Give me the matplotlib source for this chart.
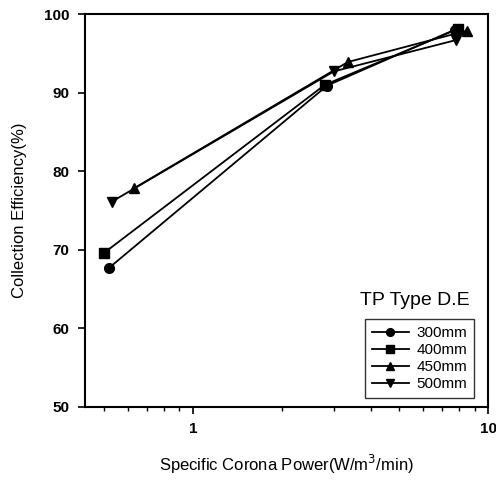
import matplotlib
matplotlib.use("Agg")
import matplotlib.pyplot as plt
from matplotlib.ticker import FixedLocator, NullFormatter

plt.rcParams['font.family'] = ['Liberation Sans', 'DejaVu Sans']

# data
labels = ['300mm', '400mm', '450mm', '500mm']
x_300 = [0.52, 2.85, 7.7]
y_300 = [67.7, 90.9, 98.0]
x_400 = [0.50, 2.80, 7.9]
y_400 = [69.6, 91.0, 98.1]
x_450 = [0.63, 3.35, 8.5]
y_450 = [77.8, 93.9, 97.9]
x_500 = [0.53, 3.00, 7.8]
y_500 = [76.1, 92.7, 96.7]

series = [(x_300, y_300, 'o'), (x_400, y_400, 's'), (x_450, y_450, '^'), (x_500, y_500, 'v')]

fig = plt.figure(figsize=(4.96, 4.86), dpi=100)
ax = fig.add_axes([0.171, 0.163, 0.813, 0.808])

for (xs, ys, m), lab in zip(series, labels):
    ax.plot(xs, ys, color='black', marker=m, markersize=7, linewidth=1.3, label=lab)

ax.set_xscale('log')
ax.set_xlim(0.43, 10)
ax.set_ylim(50, 100)
ax.set_yticks([50, 60, 70, 80, 90, 100])
ax.xaxis.set_major_locator(FixedLocator([1, 10]))
ax.set_xticklabels(['1', '10'])
ax.xaxis.set_minor_locator(FixedLocator([0.5, 0.6, 0.7, 0.8, 0.9, 2, 3, 4, 5, 6, 7, 8, 9]))
ax.xaxis.set_minor_formatter(NullFormatter())
ax.tick_params(axis='both', which='major', direction='out', length=5, width=1.2,
               labelsize=11, pad=6)
ax.tick_params(axis='x', which='minor', direction='out', length=3, width=1)
for lab in ax.get_xticklabels() + ax.get_yticklabels():
    lab.set_fontweight('bold')
for s in ax.spines.values():
    s.set_linewidth(1.5)

ax.set_xlabel('Specific Corona Power(W/m$^3$/min)', fontsize=12, labelpad=12)
ax.set_ylabel('Collection Efficiency(%)', fontsize=12, labelpad=12)

ax.text(0.955, 0.25, 'TP Type D.E', transform=ax.transAxes, ha='right', va='bottom', fontsize=14)
leg = ax.legend(loc='lower right', bbox_to_anchor=(0.965, 0.022), fontsize=11, frameon=True,
                fancybox=False, edgecolor='black', handlelength=2.4, handletextpad=0.5,
                labelspacing=0.2, borderpad=0.45, markerscale=0.8, borderaxespad=0)
leg.get_frame().set_linewidth(1.0)

fig.savefig('out.png', dpi=100)
